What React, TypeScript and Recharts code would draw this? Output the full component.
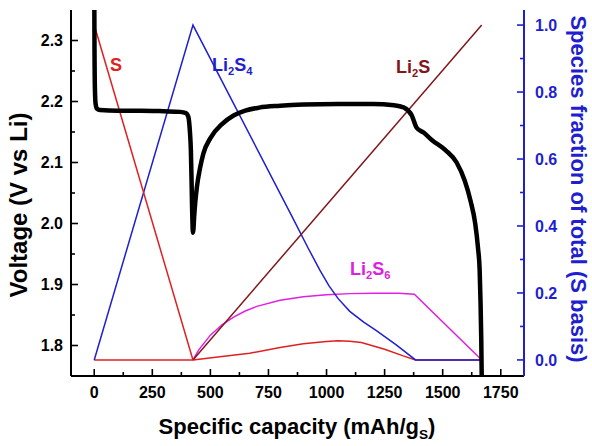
import React from 'react';
import { LineChart, Line, XAxis, YAxis } from 'recharts';

const W = 592;
const H = 446;
const FONT = '"Liberation Sans", Arial, Helvetica, sans-serif';
const BLUE = '#1f1fd0';
const RED = '#e02020';
const DARKRED = '#80161a';
const MAGENTA = '#e020e0';

// Voltage profile (left axis)
const voltageCap = [0, 1, 3, 6, 12, 25, 100, 200, 300, 370, 395, 405, 412, 416, 419, 421, 423, 425, 427, 430, 435, 442, 455, 470, 500, 550, 600, 650, 710, 800, 900, 1050, 1200, 1290, 1333, 1367, 1388, 1418, 1453, 1513, 1560, 1595, 1620, 1640, 1652, 1659, 1663, 1666, 1668];
const voltageV = [2.40, 2.30, 2.22, 2.196, 2.188, 2.186, 2.185, 2.185, 2.184, 2.183, 2.181, 2.175, 2.15, 2.12, 2.07, 2.03, 2.0, 1.985, 1.99, 2.01, 2.035, 2.06, 2.09, 2.115, 2.14, 2.163, 2.177, 2.185, 2.19, 2.193, 2.195, 2.196, 2.196, 2.194, 2.19, 2.177, 2.157, 2.149, 2.137, 2.12, 2.10, 2.07, 2.037, 2.0, 1.96, 1.925, 1.87, 1.81, 1.75];

// Species fractions (right axis)
const sCap = [0, 425];
const sFrac = [1.0, 0.0];
const li2s4Cap = [0, 425, 850, 920, 970, 1010, 1050, 1100, 1160, 1213, 1300, 1383, 1668];
const li2s4Frac = [0, 1.0, 0.43, 0.335, 0.27, 0.222, 0.183, 0.145, 0.113, 0.088, 0.045, 0, 0];
const li2s6Cap = [425, 450, 500, 550, 600, 650, 700, 800, 900, 1000, 1100, 1200, 1311, 1378, 1668];
const li2s6Frac = [0, 0.03, 0.074, 0.105, 0.128, 0.146, 0.16, 0.178, 0.189, 0.195, 0.198, 0.199, 0.199, 0.196, 0];
const li2sCap = [425, 1668];
const li2sFrac = [0, 1.0];
const minorRedCap = [0, 425, 550, 669, 800, 900, 1000, 1050, 1100, 1150, 1250, 1330, 1383, 1668];
const minorRedFrac = [0, 0, 0.01, 0.02, 0.037, 0.048, 0.055, 0.057, 0.056, 0.052, 0.032, 0.012, 0, 0];

// Ticks
const xTicks = [0, 125, 250, 375, 500, 625, 750, 875, 1000, 1125, 1250, 1375, 1500, 1625, 1750];
const vTicks = [1.8, 1.85, 1.9, 1.95, 2.0, 2.05, 2.1, 2.15, 2.2, 2.25, 2.3];
const fTicks = [0, 0.1, 0.2, 0.3, 0.4, 0.5, 0.6, 0.7, 0.8, 0.9, 1.0];

const zip = (xs: number[], ys: number[]) => xs.map((x, i) => ({ x, y: ys[i] }));

const voltageData = zip(voltageCap, voltageV);
const sData = zip(sCap, sFrac);
const li2s4Data = zip(li2s4Cap, li2s4Frac);
const li2s6Data = zip(li2s6Cap, li2s6Frac);
const li2sData = zip(li2sCap, li2sFrac);
const minorRedData = zip(minorRedCap, minorRedFrac);

const M = 20;
const tickFont = { fontFamily: FONT, fontWeight: 700, fontSize: 16 };

const BottomTick = (p: any) => {
  const { x, y, payload } = p;
  const major = Math.round(payload.value) % 250 === 0;
  const ay = y - M;
  return (
    <g>
      <line x1={x} x2={x} y1={ay} y2={ay - (major ? 7 : 4)} stroke="#000" strokeWidth={1.6} />
      {major && (
        <text x={x} y={ay + 22} textAnchor="middle" fill="#000" style={tickFont}>{payload.value}</text>
      )}
    </g>
  );
};

const TopTick = (p: any) => {
  const { x, y, payload } = p;
  const major = Math.round(payload.value) % 250 === 0;
  const ay = y + M;
  return <line x1={x} x2={x} y1={ay} y2={ay + (major ? 7 : 4)} stroke="#000" strokeWidth={1.6} />;
};

const LeftTick = (p: any) => {
  const { x, y, payload } = p;
  const major = Math.round(payload.value * 100) % 10 === 0;
  const ax = x + M;
  return (
    <g>
      <line x1={ax} x2={ax + (major ? 7 : 4)} y1={y} y2={y} stroke="#000" strokeWidth={1.6} />
      {major && (
        <text x={ax - 8} y={y} dy="0.36em" textAnchor="end" fill="#000" style={tickFont}>{payload.value.toFixed(1)}</text>
      )}
    </g>
  );
};

const RightTick = (p: any) => {
  const { x, y, payload } = p;
  const major = Math.round(payload.value * 10) % 2 === 0;
  const ax = x - M;
  return (
    <g>
      <line x1={ax} x2={ax - (major ? 7 : 4)} y1={y} y2={y} stroke={BLUE} strokeWidth={1.6} />
      {major && (
        <text x={ax + 11} y={y} dy="0.36em" textAnchor="start" fill={BLUE} style={tickFont}>{payload.value.toFixed(1)}</text>
      )}
    </g>
  );
};

const labelStyle: React.CSSProperties = {
  position: 'absolute',
  fontFamily: FONT,
  fontWeight: 700,
  fontSize: 18,
  lineHeight: 1,
  whiteSpace: 'nowrap',
};
const subStyle: React.CSSProperties = { fontSize: '0.62em', verticalAlign: '-0.35em', lineHeight: 0 };

export default function App() {
  return (
    <div style={{ position: 'relative', width: W, height: H, background: '#fff' }}>
      <style>{`body{margin:0;}`}</style>
      <LineChart width={W} height={H} margin={{ top: 10, right: 0, bottom: 0, left: 0 }}>
        <XAxis
          xAxisId="b"
          dataKey="x"
          type="number"
          domain={[-100, 1850]}
          allowDataOverflow
          ticks={xTicks}
          interval={0}
          height={70}
          tickSize={0}
          tickMargin={M}
          tick={BottomTick}
          axisLine={{ stroke: '#000', strokeWidth: 2 }}
          tickLine={false}
        />
        <XAxis
          xAxisId="t"
          orientation="top"
          dataKey="x"
          type="number"
          domain={[-100, 1850]}
          allowDataOverflow
          ticks={xTicks}
          interval={0}
          height={0}
          tickSize={0}
          tickMargin={M}
          tick={TopTick}
          axisLine={{ stroke: '#000', strokeWidth: 2 }}
          tickLine={false}
        />
        <YAxis
          yAxisId="v"
          type="number"
          domain={[1.75, 2.35]}
          allowDataOverflow
          ticks={vTicks}
          interval={0}
          width={71}
          tickSize={0}
          tickMargin={M}
          tick={LeftTick}
          axisLine={{ stroke: '#000', strokeWidth: 2 }}
          tickLine={false}
        />
        <YAxis
          yAxisId="f"
          orientation="right"
          type="number"
          domain={[-0.048, 1.045]}
          allowDataOverflow
          ticks={fTicks}
          interval={0}
          width={68}
          tickSize={0}
          tickMargin={M}
          tick={RightTick}
          axisLine={{ stroke: BLUE, strokeWidth: 2 }}
          tickLine={false}
        />
        <Line xAxisId="b" yAxisId="f" data={minorRedData} dataKey="y" type="linear" stroke={RED} strokeWidth={1.5} dot={false} isAnimationActive={false} />
        <Line xAxisId="b" yAxisId="f" data={li2s6Data} dataKey="y" type="linear" stroke={MAGENTA} strokeWidth={1.5} dot={false} isAnimationActive={false} />
        <Line xAxisId="b" yAxisId="f" data={li2s4Data} dataKey="y" type="linear" stroke={BLUE} strokeWidth={1.5} dot={false} isAnimationActive={false} />
        <Line xAxisId="b" yAxisId="f" data={li2sData} dataKey="y" type="linear" stroke={DARKRED} strokeWidth={1.5} dot={false} isAnimationActive={false} />
        <Line xAxisId="b" yAxisId="f" data={sData} dataKey="y" type="linear" stroke={RED} strokeWidth={1.5} dot={false} isAnimationActive={false} />
        <Line xAxisId="b" yAxisId="v" data={voltageData} dataKey="y" type="monotone" stroke="#000" strokeWidth={4.5} dot={false} isAnimationActive={false} />
      </LineChart>

      <div style={{ ...labelStyle, color: RED, left: 110, top: 56 }}>S</div>
      <div style={{ ...labelStyle, color: BLUE, left: 212, top: 56 }}>Li<span style={subStyle}>2</span>S<span style={subStyle}>4</span></div>
      <div style={{ ...labelStyle, color: DARKRED, left: 396, top: 58 }}>Li<span style={subStyle}>2</span>S</div>
      <div style={{ ...labelStyle, color: MAGENTA, left: 350, top: 260 }}>Li<span style={subStyle}>2</span>S<span style={subStyle}>6</span></div>

      <div style={{ ...labelStyle, fontSize: 24, left: 19, top: 205, transform: 'translate(-50%, -50%) rotate(-90deg)' }}>Voltage (V vs Li)</div>
      <div style={{ ...labelStyle, fontSize: 22, color: BLUE, left: 578, top: 189, transform: 'translate(-50%, -50%) rotate(90deg)' }}>Species fraction of total (S basis)</div>
      <div style={{ ...labelStyle, fontSize: 22, left: 297, top: 427, transform: 'translate(-50%, -50%)' }}>Specific capacity (mAh/g<span style={subStyle}>S</span>)</div>
    </div>
  );
}
